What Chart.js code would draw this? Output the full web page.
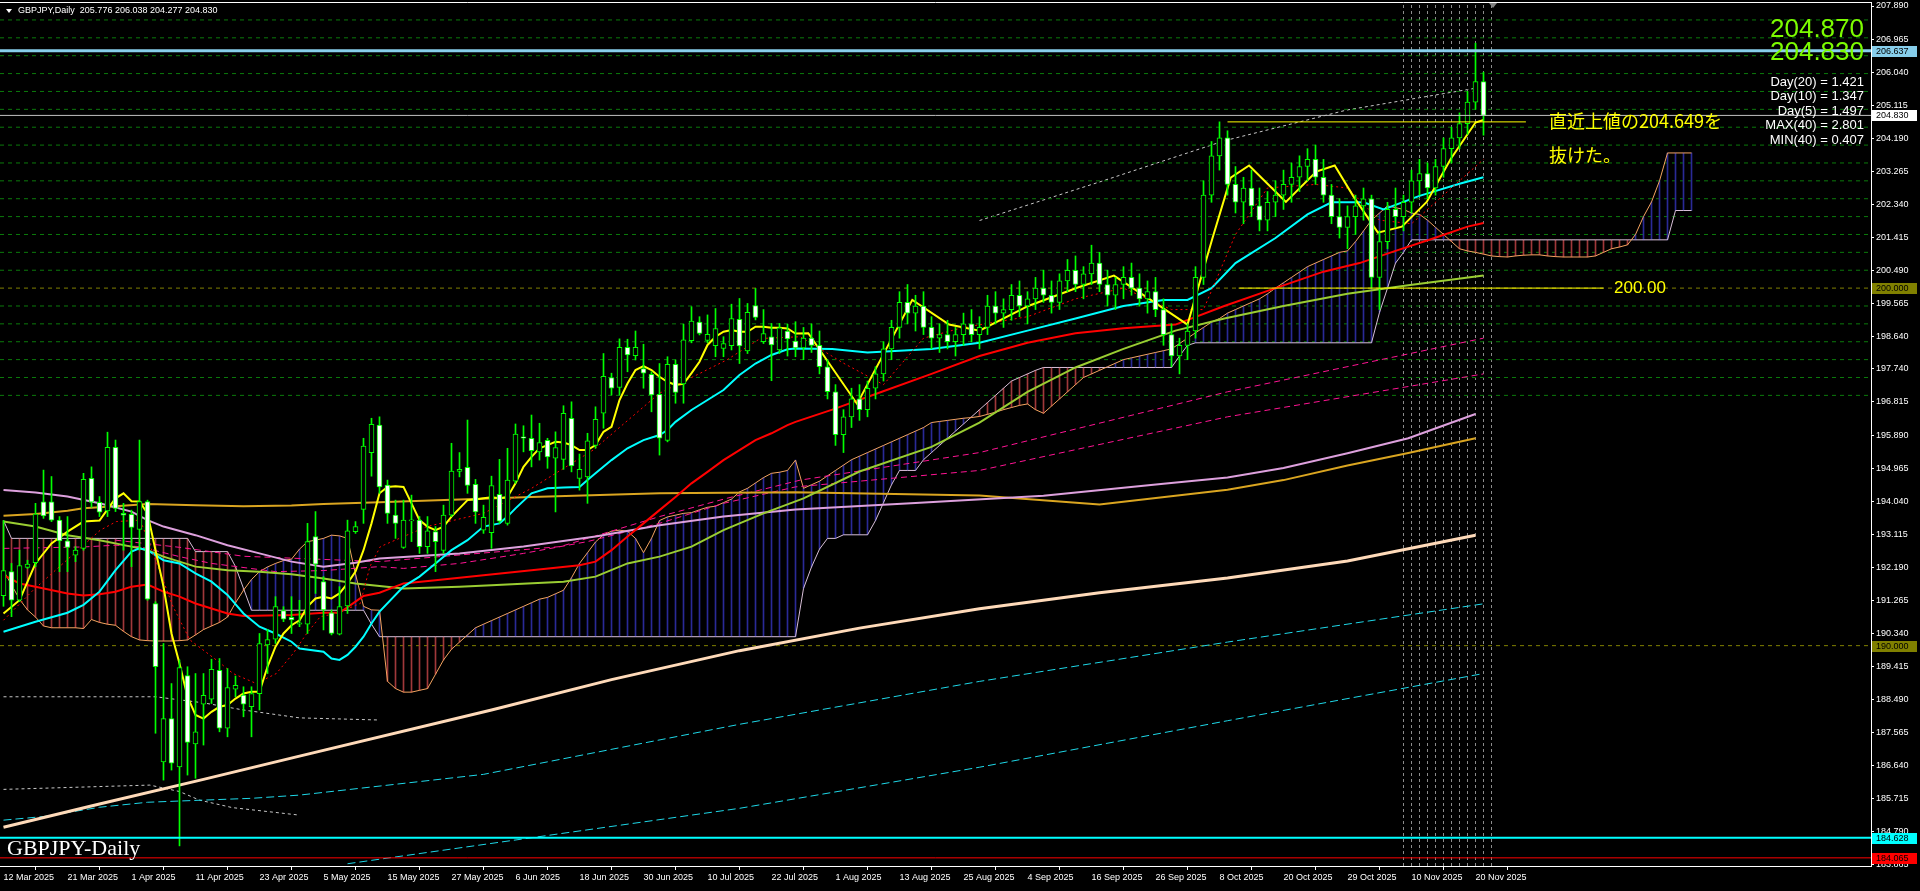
<!DOCTYPE html>
<html><head><meta charset="utf-8">
<script src="https://cdn.jsdelivr.net/npm/chart.js@4.4.1/dist/chart.umd.min.js"></script>
<style>html,body{margin:0;padding:0;background:#000;overflow:hidden}canvas{display:block}</style>
</head><body>
<canvas id="c" width="1920" height="891"></canvas>
<script>
const tickBars = [0,8,16,24,32,40,48,56,64,72,80,88,96,104,112,120,128,136,144,152,160,168,176,184];
const tickLabels = ['12 Mar 2025','21 Mar 2025','1 Apr 2025','11 Apr 2025','23 Apr 2025','5 May 2025','15 May 2025','27 May 2025','6 Jun 2025','18 Jun 2025','30 Jun 2025','10 Jul 2025','22 Jul 2025','1 Aug 2025','13 Aug 2025','25 Aug 2025','4 Sep 2025','16 Sep 2025','26 Sep 2025','8 Oct 2025','20 Oct 2025','29 Oct 2025','10 Nov 2025','20 Nov 2025'];
const priceTicks = [207.890,206.965,206.040,205.115,204.190,203.265,202.340,201.415,200.490,199.565,198.640,197.740,196.815,195.890,194.965,194.040,193.115,192.190,191.265,190.340,189.415,188.490,187.565,186.640,185.715,184.790,183.865];
const priceTickLabels = ['207.890','206.965','206.040','205.115','204.190','203.265','202.340','201.415','200.490','199.565','198.640','197.740','196.815','195.890','194.965','194.040','193.115','192.190','191.265','190.340','189.415','188.490','187.565','186.640','185.715','184.790','183.865'];

const opens = [191.40,192.07,191.27,192.19,192.32,194.02,194.02,193.51,192.93,192.53,192.72,194.68,194.01,193.77,195.55,193.70,193.67,193.25,194.03,191.18,
186.75,187.96,186.61,189.16,187.25,188.36,188.50,189.31,187.69,188.78,188.62,188.29,188.66,190.02,190.18,190.98,190.79,190.60,190.60,193.05,
191.79,190.92,190.32,191.11,193.19,193.81,195.40,196.17,194.49,193.65,192.75,193.49,193.51,192.77,193.19,192.66,193.65,194.87,194.99,194.51,
193.23,193.16,194.23,193.42,194.60,195.84,195.80,195.42,195.74,195.24,195.21,196.36,194.68,194.72,195.60,196.50,197.50,197.22,198.34,198.11,
197.75,197.59,197.03,195.74,197.87,197.32,198.53,199.05,198.54,198.39,198.31,198.39,199.13,198.24,199.51,198.50,198.64,198.27,198.80,198.52,
198.33,198.6,198.4,197.8,197.1,195.9,196.4,196.9,196.6,197.2,197.6,198.3,198.9,199.6,199.3,199.5,198.9,198.6,198.7,198.5,
198.7,199.0,198.7,198.9,199.5,199.3,199.4,199.8,199.5,199.7,200.0,199.8,199.6,200.2,200.5,200.1,200.4,200.7,200.1,199.8,
200.1,200.3,200.0,199.7,199.9,199.4,198.7,198.1,198.4,198.8,200.3,202.6,203.7,204.2,202.9,202.4,202.8,202.3,201.9,202.4,
202.6,202.9,203.1,203.4,203.6,203.1,202.6,202.0,201.7,202.0,202.3,202.5,200.3,201.3,202.2,202.0,202.4,203.0,203.2,202.8,
203.4,203.9,204.2,204.6,205.2,205.776];
const highs = [193.50,192.30,192.67,192.39,193.98,194.91,194.73,193.61,193.61,192.77,194.82,195.00,194.17,195.97,195.75,193.98,193.79,195.75,194.07,191.23,
190.06,188.94,189.60,189.41,189.22,189.22,189.62,189.64,189.36,189.15,188.85,188.85,190.34,190.45,191.37,191.09,191.37,191.27,193.42,193.75,
191.93,191.00,191.65,193.51,193.47,195.80,196.36,196.40,194.63,194.07,194.07,194.21,193.61,193.61,193.33,193.93,195.66,195.40,196.31,194.65,
193.93,194.74,195.21,195.52,196.20,196.15,196.45,196.22,195.80,195.98,196.71,196.82,195.36,195.94,196.68,198.17,197.62,198.58,198.57,198.80,
198.43,197.66,197.89,198.08,197.99,198.99,199.48,199.20,199.25,199.43,198.64,199.55,199.71,199.57,199.99,199.40,199.01,199.01,198.99,199.06,
198.9,199.0,198.8,198.0,197.3,196.6,197.2,197.3,197.4,197.8,198.5,199.1,199.9,200.1,199.8,199.9,199.2,199.0,199.1,198.9,
199.3,199.4,199.2,199.8,199.9,199.7,200.1,200.2,199.9,200.3,200.5,200.2,200.4,200.8,200.9,200.6,201.2,201.0,200.5,200.3,
200.6,200.7,200.4,200.2,200.3,199.7,199.0,198.6,199.0,200.6,203.0,204.1,204.65,204.4,203.4,203.1,203.3,202.8,202.7,203.0,
203.3,203.5,203.7,203.9,204.0,203.6,202.9,202.5,202.3,202.6,202.8,202.6,201.6,202.4,202.8,202.6,203.3,203.6,203.5,203.6,
204.2,204.5,204.9,205.5,206.85,206.038];
const lows = [191.10,190.81,191.23,192.16,192.21,193.56,193.47,192.07,192.07,192.35,192.67,193.87,193.61,193.61,193.75,192.67,192.21,192.67,191.27,187.55,
186.24,186.52,184.40,186.38,186.29,187.22,188.38,187.59,187.45,188.57,188.01,187.45,188.20,189.22,190.06,190.67,190.34,190.53,190.34,191.46,
190.44,190.30,190.30,190.90,193.14,193.42,194.74,194.26,193.42,193.00,192.72,192.91,192.58,192.58,192.07,192.58,193.61,194.72,194.26,193.42,
193.14,192.72,193.42,193.37,194.54,195.42,195.00,195.19,194.96,193.74,194.93,194.86,194.35,193.98,195.52,196.08,197.01,197.01,197.66,197.99,
197.20,196.54,195.33,195.70,196.78,196.78,198.47,198.69,198.47,198.08,198.08,198.27,197.89,198.17,199.11,198.45,197.41,198.17,198.10,198.08,
198.0,198.2,197.6,196.9,195.6,195.4,196.1,196.3,196.4,196.9,197.4,198.0,198.6,199.0,198.8,198.7,198.3,198.2,198.3,198.1,
198.4,198.5,198.3,198.7,199.0,198.9,199.1,199.2,199.0,199.4,199.6,199.3,199.4,199.9,199.9,199.7,200.1,199.9,199.5,199.4,
199.7,199.8,199.5,199.3,199.2,198.4,197.8,197.6,198.0,198.6,200.1,202.4,203.3,202.6,202.1,201.8,202.0,201.6,201.6,202.0,
202.2,202.4,202.7,203.0,202.9,202.4,201.8,201.4,201.1,201.5,201.9,200.0,199.4,201.1,201.7,201.6,202.1,202.6,202.5,202.6,
203.1,203.5,203.9,204.3,205.0,204.277];
const closes = [192.10,191.27,192.24,192.28,193.68,193.63,193.51,192.93,192.75,192.67,194.65,194.01,193.73,195.55,193.84,193.65,193.31,194.03,191.30,189.41,
187.96,186.71,189.39,187.29,187.59,188.61,189.34,187.69,188.83,188.89,188.36,188.66,190.06,190.17,191.09,190.74,190.72,190.64,192.91,192.28,
191.00,190.34,191.09,193.21,193.33,195.58,196.19,194.44,193.70,193.42,193.51,193.51,192.77,193.21,192.91,193.65,194.88,194.93,194.48,193.74,
193.59,194.48,193.48,194.63,195.92,195.80,195.45,195.68,195.28,195.54,196.50,195.03,194.93,195.73,196.33,197.53,197.20,198.34,198.13,198.34,
197.62,197.01,195.80,197.87,197.08,198.55,199.08,198.73,198.71,198.87,198.45,199.15,198.38,199.32,199.18,198.73,198.41,198.89,198.58,198.33,
198.6,198.4,197.8,197.1,195.9,196.4,196.9,196.6,197.2,197.6,198.3,198.9,199.6,199.3,199.5,198.9,198.6,198.7,198.5,198.7,
199.0,198.7,198.9,199.5,199.3,199.4,199.8,199.5,199.7,200.0,199.8,199.6,200.2,200.5,200.1,200.4,200.7,200.1,199.8,200.1,
200.3,200.0,199.7,199.9,199.4,198.7,198.1,198.4,198.8,200.3,202.6,203.7,204.2,202.9,202.4,202.8,202.3,201.9,202.4,202.6,
202.9,203.1,203.4,203.6,203.1,202.6,202.0,201.7,202.0,202.3,202.5,200.3,201.3,202.2,202.0,202.4,203.0,203.2,202.8,203.4,
203.9,204.2,204.6,205.2,205.776,204.830];

const maYellow = [[0,190.90],[2,191.27],[4,192.30],[6,192.86],[8,193.19],[10,193.47],[12,193.50],[13,193.81],[14,194.12],[15,194.26],[16,194.04],[17,194.03],[18,193.70],[19,192.67],[20,191.65],[21,190.34],[22,189.50],[23,188.57],[24,188.06],[25,187.96],[26,188.15],[27,188.29],[28,188.34],[29,188.52],[30,188.66],[31,188.71],[32,188.71],[33,189.41],[34,189.97],[35,190.34],[36,190.57],[37,190.71],[38,191.09],[39,191.32],[40,191.37],[41,191.32],[42,191.46],[43,191.74],[44,192.07],[45,192.67],[46,193.42],[47,194.26],[48,194.44],[49,194.46],[50,194.44],[51,193.98],[52,193.51],[53,193.33],[54,193.23],[55,193.33],[56,193.61],[57,193.84],[58,194.07],[59,194.09],[60,194.12],[61,194.15],[62,194.12],[63,194.16],[64,194.54],[65,195.00],[66,195.28],[67,195.52],[68,195.61],[69,195.70],[70,195.68],[71,195.61],[72,195.47],[73,195.47],[74,195.61],[75,195.98],[76,196.12],[77,196.87],[78,197.33],[79,197.71],[80,197.82],[81,197.71],[82,197.52],[83,197.38],[84,197.29],[85,197.32],[86,197.62],[87,197.94],[88,198.41],[89,198.64],[90,198.78],[91,198.83],[92,198.78],[93,198.78],[94,198.92],[95,198.92],[96,198.89],[97,198.89],[98,198.87],[99,198.73],[100.6,198.74],[106.7,196.76],[113.6,199.67],[118.2,198.98],[122,198.81],[128.1,199.5],[134.2,200.01],[138.8,200.35],[143.4,199.67],[148,198.98],[151.1,201.38],[153.4,203.09],[155.7,203.43],[158,202.92],[160.3,202.41],[164.1,203.26],[166.4,203.43],[168.7,202.58],[171.8,201.55],[174.8,201.72],[177.9,202.41],[180.9,203.61],[184,204.63],[185,204.7]];
const maRedDotted = [[0,190.71],[3.7,191.55],[7.9,192.39],[12.1,193.23],[14.1,193.47],[17.1,193.51],[17.9,193.05],[21.2,191.09],[23.3,190.16],[26.6,189.60],[28.7,189.22],[31.6,188.94],[34.1,189.22],[36.2,189.78],[37.9,190.34],[39.6,190.81],[41.6,190.90],[44.6,191.18],[45.8,192.21],[47.1,192.77],[52.9,193.33],[60,193.7],[66,194.4],[73.7,195.47],[82,197.06],[86.2,197.52],[90.4,197.99],[94.6,198.59],[99.6,198.64],[105,197.9],[110,197.3],[115,198.6],[120,198.9],[128,199.2],[134,199.7],[140,200.0],[146,199.4],[150,199.4],[154,201.5],[158,202.8],[164,202.9],[168,202.8],[172,201.9],[176,201.8],[180,202.6],[185,203.6]];
const maCyan = [[0,190.39],[4,190.67],[8,190.92],[10,191.14],[12,191.51],[14,192.11],[16,192.63],[17,192.72],[18,192.67],[19,192.53],[20,192.39],[22,192.30],[24,192.02],[26,191.79],[28,191.42],[30,190.90],[32,190.53],[34,190.34],[36,190.11],[37,189.92],[40,189.83],[41,189.64],[42,189.60],[43,189.74],[44,189.97],[45,190.25],[46,190.62],[47,190.95],[50,191.65],[52,191.93],[54,192.30],[56,192.67],[58,192.95],[60,193.33],[62,193.42],[63,193.61],[64,193.84],[66,194.26],[68,194.40],[70,194.42],[72,194.44],[73,194.63],[74,194.82],[76,195.19],[78,195.52],[80,195.75],[82,195.89],[83,196.03],[84,196.26],[86,196.59],[88,196.87],[90,197.15],[92,197.57],[94,197.89],[96,198.13],[98,198.29],[99,198.31],[103.6,198.3],[108,198.2],[116,198.3],[122,198.47],[128,198.81],[134,199.15],[140,199.5],[145,199.67],[148,199.67],[151,200.0],[154,200.7],[159,201.4],[163,202.06],[166,202.4],[170,202.4],[172.5,202.2],[177,202.58],[182,202.92],[185,203.1]];
const maRed = [[0,191.97],[2,191.74],[4,191.65],[8,191.46],[10,191.40],[12,191.44],[14,191.51],[16,191.65],[18,191.71],[20,191.51],[22,191.37],[24,191.18],[26,191.04],[28,190.90],[30,190.83],[36,190.86],[40,190.92],[42,190.92],[44,191.23],[45,191.39],[47,191.48],[50,191.74],[54,191.83],[60,191.97],[66,192.11],[72,192.25],[74,192.35],[76,192.67],[78,193.05],[80,193.42],[82,193.79],[84,194.16],[86,194.54],[88,194.86],[90,195.19],[92,195.47],[94,195.75],[96,195.94],[98,196.17],[99,196.26],[103.6,196.6],[109.8,197.1],[116,197.6],[122,198.1],[128,198.47],[134,198.74],[140,198.88],[146.5,198.98],[152.6,199.5],[159,200.0],[165,200.46],[169.5,200.7],[174,201.04],[178.6,201.38],[183,201.72],[185,201.82]];
const maYellowGreen = [[0,193.47],[4,193.33],[8,193.09],[12,192.95],[16,192.77],[18,192.67],[20,192.49],[24,192.21],[28,192.11],[32,192.07],[36,192.00],[40,191.88],[44,191.74],[50,191.60],[57,191.65],[61,191.69],[70,191.79],[74,191.93],[78,192.30],[82,192.49],[86,192.77],[90,193.23],[95,193.70],[100,194.12],[107,194.87],[116,195.56],[122,196.24],[128,197.1],[134,197.78],[140,198.3],[146.5,198.81],[152.6,199.15],[160,199.5],[168,199.84],[175.6,200.08],[185,200.35]];
const maPlum = [[0,194.35],[4,194.28],[8,194.17],[12,193.98],[16,193.75],[18,193.51],[20,193.33],[24,193.09],[28,192.81],[32,192.58],[36,192.35],[40,192.21],[44,192.32],[47,192.44],[57,192.58],[65,192.77],[74,193.05],[82,193.37],[90,193.61],[99,193.81],[114,193.99],[130,194.19],[145,194.53],[153,194.7],[160,194.97],[168,195.38],[175.6,195.8],[184,196.48]];
const maGold = [[0,193.63],[4,193.68],[8,193.77],[10,193.84],[14,193.90],[18,193.96],[24,193.93],[30,193.90],[36,193.92],[40,193.96],[47,194.01],[66,194.16],[82,194.26],[99,194.29],[122,194.2],[137,193.95],[153,194.36],[160,194.63],[168,195.04],[175.6,195.39],[184,195.8]];
const maPeach = [[0,184.92],[12,185.57],[25,186.26],[37,186.91],[61,188.2],[76,189.05],[92,189.86],[107,190.49],[122,191.03],[137,191.48],[153,191.89],[168,192.37],[184,193.09]];
const cyanDashUpper = [[0,185.12],[5,185.22],[12,185.48],[18,185.62],[25,185.68],[31,185.73],[37,185.82],[60,186.4],[92,187.8],[122,189.0],[153,190.1],[185,191.17]];
const cyanDashLower = [[43,183.9],[92,185.45],[122,186.6],[153,187.9],[185,189.22]];
const pinkDashLow = [[0,192.72],[10,192.76],[14,192.81],[17,192.77],[22,192.49],[26,192.30],[34,192.07],[40,192.10],[47,192.21],[50,192.16],[57,192.30],[65,192.58],[73,192.91],[82,193.42],[90,193.98],[99,194.44],[122,194.9],[153,196.4],[185,197.6]];
const pinkDashHigh = [[14,192.95],[22,192.75],[30,192.5],[47,192.35],[69.6,192.77],[82,193.61],[90.4,194.12],[99.6,194.63],[122,195.4],[153,197.1],[185,198.6]];
const greyDotTop = [[122,201.89],[137.3,202.99],[152.6,204.12],[167.9,204.98],[184,205.59]];
const greyDotMid = [[0,188.57],[19,188.57],[25,188.4],[30,188.2],[37,187.98],[47,187.92]];
const greyDotLow = [[0,185.98],[18.3,186.1],[22,185.92],[24.5,185.68],[28.6,185.47],[37,185.26]];

const spanA = [192.1,191.7,191.3,191.0,190.8,190.55,190.5,190.5,190.5,190.5,190.48,190.73,190.65,190.6,190.57,190.4,190.25,190.16,190.14,190.13,
190.13,190.13,190.14,190.16,190.3,190.45,190.55,190.65,190.8,191.2,191.55,191.85,192.07,192.2,192.3,192.38,192.42,192.7,192.91,192.95,
193.0,193.09,193.07,193.0,192.0,191.1,191.0,190.99,189.0,188.8,188.7,188.7,188.75,188.8,189.2,189.6,189.9,190.1,190.3,190.5,
190.6,190.7,190.8,190.9,191.0,191.1,191.2,191.3,191.35,191.45,191.55,191.9,192.3,192.6,192.9,193.1,193.2,193.23,193.2,193.0,
192.6,193.0,193.5,193.6,193.65,193.7,193.72,193.8,193.87,193.9,194.0,194.1,194.3,194.4,194.55,194.7,194.82,194.85,194.9,195.19,
194.4,194.5,194.6,194.75,194.9,195.05,195.2,195.3,195.4,195.5,195.6,195.7,195.8,195.9,196.0,196.1,196.24,196.27,196.3,196.33,
196.36,196.38,196.41,196.47,196.53,196.6,196.66,196.72,196.76,196.6,196.5,196.7,196.9,197.1,197.3,197.5,197.6,197.7,197.8,197.9,
198.0,198.05,198.1,198.15,198.2,198.25,198.3,198.45,198.6,198.75,198.9,199.05,199.15,199.3,199.4,199.5,199.6,199.7,199.84,200.0,
200.15,200.3,200.45,200.6,200.7,200.8,200.9,201.0,201.04,201.3,201.6,201.9,202.1,202.3,202.25,202.2,202.1,202.06,201.9,201.7,
201.5,201.3,201.1,201.04,201.0,200.95,200.9,200.88,200.87,200.9,200.92,200.93,200.93,200.9,200.88,200.87,200.87,200.87,200.87,200.9,
201.0,201.1,201.15,201.21,201.5,202.0,202.41,203.0,203.78,203.78,203.78,203.78];
const spanB = [193.5,193.0,193.0,193.0,193.0,193.0,193.0,193.0,193.0,193.0,193.0,193.0,193.0,193.0,193.0,193.0,193.0,193.0,193.0,193.0,
193.0,193.0,193.0,193.0,192.63,192.63,192.63,192.63,192.63,192.21,191.6,190.99,190.99,190.99,190.99,190.99,190.99,190.99,190.99,190.99,
190.99,190.99,190.99,190.99,190.99,190.99,190.6,190.25,190.25,190.25,190.25,190.25,190.25,190.25,190.25,190.25,190.25,190.25,190.25,190.25,
190.25,190.25,190.25,190.25,190.25,190.25,190.25,190.25,190.25,190.25,190.25,190.25,190.25,190.25,190.25,190.25,190.25,190.25,190.25,190.25,
190.25,190.25,190.25,190.25,190.25,190.25,190.25,190.25,190.25,190.25,190.25,190.25,190.25,190.25,190.25,190.25,190.25,190.25,190.25,190.25,
191.6,192.2,192.7,193.0,193.0,193.1,193.1,193.1,193.1,193.5,194.0,194.5,194.9,194.9,194.9,195.2,195.4,195.6,195.8,196.0,
196.2,196.4,196.6,196.8,197.0,197.2,197.4,197.5,197.6,197.7,197.78,197.78,197.78,197.78,197.78,197.78,197.78,197.78,197.78,197.78,
197.78,197.78,197.78,197.78,197.78,197.78,197.78,198.1,198.4,198.47,198.47,198.47,198.47,198.47,198.47,198.47,198.47,198.47,198.47,198.47,
198.47,198.47,198.47,198.47,198.47,198.47,198.47,198.47,198.47,198.47,198.47,198.47,199.32,200.0,200.7,201.0,201.35,201.35,201.35,201.35,
201.35,201.35,201.35,201.35,201.35,201.35,201.35,201.35,201.35,201.35,201.35,201.35,201.35,201.35,201.35,201.35,201.35,201.35,201.35,201.35,
201.35,201.35,201.35,201.35,201.35,201.35,201.35,201.35,201.35,202.17,202.17,202.17];

const greenLevels = [197.0,197.5,198.0,198.5,199.0,199.5,200.5,201.0,201.5,202.0,202.5,203.0,203.5,204.0,204.5,205.0,205.5,206.0,206.5,207.0,207.5];
const oliveLevels = [200.0,190.0];
const skyLevel = 206.637, bidLevel = 204.830, cyanLevel = 184.628, redLevel = 184.065;
const recentHigh = 204.649, roundLevel = 200.00;
const recentHighSpan = [153, 190.3], roundSpan = [154.4, 200];
const vLineBars = [175,176,177,178,179,180,181,182,183,184,185,186];
const header = 'GBPJPY,Daily  205.776 206.038 204.277 204.830';
const bigValues = ['204.870','204.830'];
const statLines = ['Day(20) = 1.421','Day(10) = 1.347','Day(5) = 1.497','MAX(40) = 2.801','MIN(40) = 0.407'];
const noteLines = ['直近上値の204.649を','抜けた。'];
const roundNote = '200.00';
const symbolTitle = 'GBPJPY-Daily';

// ---- chart ----
const XMIN = -0.4375, XMAX = 233.4375;
const YMIN = 183.865 - 1/35.754, YMAX = 207.890 + 4/35.754;
Chart.defaults.font.family = "'Liberation Sans', Arial, sans-serif";
Chart.defaults.font.size = 9;
Chart.defaults.color = '#ffffff';

const pts = a => a.map(p => ({x:p[0], y:p[1]}));
const ds = [];
function line(arr, color, width, dash, order){
  ds.push({type:'line', data:pts(arr), borderColor:color, borderWidth:width, borderDash:dash||[], pointRadius:0, fill:false, tension:0, order:order, borderCapStyle:'butt'});
}
function hline(v, color, width, dash, order, x0, x1){
  ds.push({type:'line', data:[{x:x0===undefined?XMIN:x0, y:v},{x:x1===undefined?XMAX:x1, y:v}], borderColor:color, borderWidth:width, borderDash:dash||[], pointRadius:0, order:order});
}
const bars = opens.map((_, i) => i);
ds.push({type:'bar', data:bars.map(i => ({x:i, y:[opens[i], closes[i]]})), backgroundColor:bars.map(i => closes[i] >= opens[i] ? '#000000' : '#ffffff'), borderColor:'#00ff00', borderWidth:1, borderSkipped:false, barThickness:5, minBarLength:1, grouped:false, order:1});
ds.push({type:'bar', data:bars.map(i => ({x:i, y:[lows[i], highs[i]]})), backgroundColor:'#00ff00', barThickness:1, grouped:false, order:2});
hline(skyLevel, '#87CEEB', 3, [], 0);
hline(bidLevel, '#C0C0C0', 1, [], 0);
hline(cyanLevel, '#00FFFF', 2, [], 0);
hline(redLevel, '#FF0000', 1, [], 0);
hline(recentHigh, '#FFFF00', 1, [], 0, recentHighSpan[0], recentHighSpan[1]);
hline(roundLevel, '#FFFF00', 1, [], 0, roundSpan[0], roundSpan[1]);
line(maYellow, '#FFFF00', 2, [], 3);
line(maRedDotted, '#FF0000', 1, [2,3], 3);
line(maCyan, '#00FFFF', 2, [], 3);
line(maRed, '#FF0000', 2, [], 3);
line(maYellowGreen, '#9ACD32', 2, [], 3);
line(maPlum, '#DDA0DD', 2, [], 3);
line(maGold, '#DAA520', 2, [], 3);
line(maPeach, '#FFDAB9', 3, [], 3);
line(cyanDashUpper, '#1ED8E8', 1, [8,4], 3);
line(cyanDashLower, '#1ED8E8', 1, [8,4], 3);
line(pinkDashLow, '#FF1493', 1, [6,4], 3);
line(pinkDashHigh, '#FF1493', 1, [6,4], 3);
line(greyDotTop, '#c8c8c8', 1, [3,3], 7);
line(greyDotMid, '#c8c8c8', 1, [3,3], 7);
line(greyDotLow, '#c8c8c8', 1, [3,3], 7);
const cloudBars = spanA.map((_, i) => i);
line(cloudBars.map(i => [i, spanA[i]]), '#F4A460', 1, [], 4);
line(cloudBars.map(i => [i, spanB[i]]), '#D8BFD8', 1, [], 4);
ds.push({type:'bar', data:cloudBars.map(i => ({x:i, y:[spanA[i], spanB[i]]})), backgroundColor:cloudBars.map(i => spanA[i] >= spanB[i] ? '#2a2a96' : '#a0383a'), barThickness:1, grouped:false, order:5});
greenLevels.forEach(v => hline(v, '#0b7a0b', 1, [4,4], 6));
oliveLevels.forEach(v => hline(v, '#808000', 1, [4,4], 6));
vLineBars.forEach(b => ds.push({type:'line', data:[{x:b, y:YMIN},{x:b, y:YMAX}], borderColor:'#8c8c8c', borderWidth:1, borderDash:[3,3], pointRadius:0, order:6}));

const overlay = {
  id:'overlay',
  afterDraw(chart){
    const c = chart.ctx, ys = chart.scales.y, ca = chart.chartArea;
    c.save();
    c.strokeStyle = '#ffffff'; c.lineWidth = 1;
    c.beginPath(); c.moveTo(0, 2.5); c.lineTo(ca.right, 2.5); c.stroke();
    c.fillStyle = '#ffffff';
    c.beginPath(); c.moveTo(6, 9); c.lineTo(12, 9); c.lineTo(9, 13); c.closePath(); c.fill();
    c.font = "9px 'Liberation Sans'"; c.textBaseline = 'middle'; c.textAlign = 'left';
    c.fillText(header, 18, 11);
    c.fillStyle = '#808080';
    c.beginPath(); c.moveTo(1489, 3); c.lineTo(1497, 3); c.lineTo(1493, 8); c.closePath(); c.fill();
    c.fillStyle = '#7CFC00'; c.textAlign = 'right';
    c.font = "26px 'Liberation Sans'";
    c.fillText(bigValues[0], 1864, 30);
    c.fillText(bigValues[1], 1864, 53);
    c.fillStyle = '#ffffff'; c.font = "13px 'Liberation Sans'";
    statLines.forEach((t, k) => c.fillText(t, 1864, 82 + k * 14.6));
    c.fillStyle = '#FFFF00'; c.textAlign = 'left';
    c.font = "18px 'Noto Sans CJK JP'";
    c.fillText(noteLines[0], 1549, ys.getPixelForValue(recentHigh) - 1);
    c.fillText(noteLines[1], 1549, ys.getPixelForValue(recentHigh) + 33);
    c.font = "17px 'Liberation Sans'";
    c.fillText(roundNote, 1614, ys.getPixelForValue(roundLevel));
    c.fillStyle = '#ffffff'; c.font = "22px 'Liberation Serif'"; c.textBaseline = 'alphabetic';
    c.fillText(symbolTitle, 7, 855);
    const flags = [[skyLevel,'#87CEEB','#000'],[bidLevel,'#ffffff','#000'],[roundLevel,'#808000','#000'],[190.0,'#808000','#000'],[cyanLevel,'#00FFFF','#000'],[redLevel,'#FF0000','#000']];
    c.font = "9px 'Liberation Sans'"; c.textBaseline = 'middle'; c.textAlign = 'left';
    flags.forEach(f => {
      const py = Math.round(ys.getPixelForValue(f[0]));
      c.fillStyle = f[1]; c.fillRect(ca.right + 1, py - 5, 45, 11);
      c.fillStyle = f[2]; c.fillText(f[0].toFixed(3), ca.right + 5, py + 0.5);
    });
    c.restore();
  }
};

new Chart(document.getElementById('c'), {
  type:'line',
  data:{datasets:ds},
  options:{
    responsive:false, animation:false, devicePixelRatio:1,
    layout:{padding:{top:2, left:0, right:0, bottom:0}},
    plugins:{legend:{display:false}, tooltip:{enabled:false}},
    scales:{
      x:{type:'linear', min:XMIN, max:XMAX, offset:false,
        afterBuildTicks: s => { s.ticks = tickBars.map(v => ({value:v})); },
        afterFit: s => { s.height = 25; s.paddingLeft = 0; s.paddingRight = 0; },
        ticks:{autoSkip:false, maxRotation:0, align:'start', padding:2, color:'#ffffff', callback:(v, i) => tickLabels[i]},
        grid:{drawOnChartArea:false, drawTicks:true, tickLength:4, color:'#ffffff'},
        border:{color:'#ffffff', width:1}},
      y:{type:'linear', position:'right', min:YMIN, max:YMAX,
        afterBuildTicks: s => { s.ticks = priceTicks.map(v => ({value:v})); },
        afterFit: s => { s.width = 49; s.paddingTop = 0; s.paddingBottom = 0; },
        ticks:{autoSkip:false, padding:2, color:'#ffffff', callback:(v, i) => priceTickLabels[i]},
        grid:{drawOnChartArea:false, drawTicks:true, tickLength:3, color:'#ffffff'},
        border:{color:'#ffffff', width:1}}
    }
  },
  plugins:[overlay]
});
</script>
</body></html>
